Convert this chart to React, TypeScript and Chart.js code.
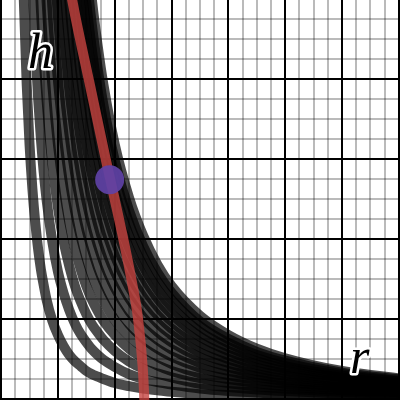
import { useEffect, useRef } from "react";
import { Chart, registerables } from "chart.js";

Chart.register(...registerables);

// radius values (x) shared by the black constant-volume curves
const radii = [0.3, 0.35, 0.4, 0.45, 0.5, 0.55, 0.6, 0.65, 0.7, 0.75, 0.8, 0.9, 1.0, 1.1, 1.2, 1.3, 1.4, 1.5, 1.6, 1.7, 1.8, 2.0, 2.25, 2.5, 2.75, 3.0, 3.5, 4.0, 4.5, 5.0, 6.0, 7.1];

// heights (y) of each black curve at the radii above (null = above the view)
const blackCurves: (number | null)[][] = [
  [8.84, 6.5, 4.97, 3.93, 3.18, 2.63, 2.21, 1.88, 1.62, 1.42, 1.24, 0.98, 0.8, 0.66, 0.55, 0.47, 0.41, 0.35, 0.31, 0.28, 0.25, 0.2, 0.16, 0.13, 0.11, 0.09, 0.06, 0.05, 0.04, 0.03, 0.02, 0.02],
  [null, null, 9.95, 7.86, 6.37, 5.26, 4.42, 3.77, 3.25, 2.83, 2.49, 1.97, 1.59, 1.32, 1.11, 0.94, 0.81, 0.71, 0.62, 0.55, 0.49, 0.4, 0.31, 0.25, 0.21, 0.18, 0.13, 0.1, 0.08, 0.06, 0.04, 0.03],
  [null, null, null, null, 9.55, 7.89, 6.63, 5.65, 4.87, 4.24, 3.73, 2.95, 2.39, 1.97, 1.66, 1.41, 1.22, 1.06, 0.93, 0.83, 0.74, 0.6, 0.47, 0.38, 0.32, 0.27, 0.19, 0.15, 0.12, 0.1, 0.07, 0.05],
  [null, null, null, null, null, 10.52, 8.84, 7.53, 6.5, 5.66, 4.97, 3.93, 3.18, 2.63, 2.21, 1.88, 1.62, 1.41, 1.24, 1.1, 0.98, 0.8, 0.63, 0.51, 0.42, 0.35, 0.26, 0.2, 0.16, 0.13, 0.09, 0.06],
  [null, null, null, null, null, null, 11.05, 9.42, 8.12, 7.07, 6.22, 4.91, 3.98, 3.29, 2.76, 2.35, 2.03, 1.77, 1.55, 1.38, 1.23, 0.99, 0.79, 0.64, 0.53, 0.44, 0.32, 0.25, 0.2, 0.16, 0.11, 0.08],
  [null, null, null, null, null, null, null, 11.3, 9.75, 8.49, 7.46, 5.89, 4.78, 3.95, 3.32, 2.83, 2.44, 2.12, 1.87, 1.65, 1.47, 1.19, 0.94, 0.76, 0.63, 0.53, 0.39, 0.3, 0.24, 0.19, 0.13, 0.09],
  [null, null, null, null, null, null, null, null, 11.37, 9.9, 8.7, 6.88, 5.57, 4.6, 3.87, 3.3, 2.84, 2.48, 2.18, 1.93, 1.72, 1.39, 1.1, 0.89, 0.74, 0.62, 0.45, 0.35, 0.28, 0.22, 0.15, 0.11],
  [null, null, null, null, null, null, null, null, null, 11.32, 9.95, 7.86, 6.37, 5.26, 4.42, 3.77, 3.25, 2.83, 2.49, 2.2, 1.96, 1.59, 1.26, 1.02, 0.84, 0.71, 0.52, 0.4, 0.31, 0.25, 0.18, 0.13],
  [null, null, null, null, null, null, null, null, null, null, 11.19, 8.84, 7.16, 5.92, 4.97, 4.24, 3.65, 3.18, 2.8, 2.48, 2.21, 1.79, 1.41, 1.15, 0.95, 0.8, 0.58, 0.45, 0.35, 0.29, 0.2, 0.14],
  [null, null, null, null, null, null, null, null, null, null, 12.43, 9.82, 7.96, 6.58, 5.53, 4.71, 4.06, 3.54, 3.11, 2.75, 2.46, 1.99, 1.57, 1.27, 1.05, 0.88, 0.65, 0.5, 0.39, 0.32, 0.22, 0.16],
  [null, null, null, null, null, null, null, null, null, null, null, 10.81, 8.75, 7.23, 6.08, 5.18, 4.47, 3.89, 3.42, 3.03, 2.7, 2.19, 1.73, 1.4, 1.16, 0.97, 0.71, 0.55, 0.43, 0.35, 0.24, 0.17],
  [null, null, null, null, null, null, null, null, null, null, null, 11.79, 9.55, 7.89, 6.63, 5.65, 4.87, 4.24, 3.73, 3.3, 2.95, 2.39, 1.89, 1.53, 1.26, 1.06, 0.78, 0.6, 0.47, 0.38, 0.27, 0.19],
  [null, null, null, null, null, null, null, null, null, null, null, null, 10.35, 8.55, 7.18, 6.12, 5.28, 4.6, 4.04, 3.58, 3.19, 2.59, 2.04, 1.66, 1.37, 1.15, 0.84, 0.65, 0.51, 0.41, 0.29, 0.21],
  [null, null, null, null, null, null, null, null, null, null, null, null, 11.14, 9.21, 7.74, 6.59, 5.68, 4.95, 4.35, 3.85, 3.44, 2.79, 2.2, 1.78, 1.47, 1.24, 0.91, 0.7, 0.55, 0.45, 0.31, 0.22],
  [null, null, null, null, null, null, null, null, null, null, null, null, null, 9.86, 8.29, 7.06, 6.09, 5.31, 4.66, 4.13, 3.68, 2.98, 2.36, 1.91, 1.58, 1.33, 0.97, 0.75, 0.59, 0.48, 0.33, 0.24],
  [null, null, null, null, null, null, null, null, null, null, null, null, null, 10.52, 8.84, 7.53, 6.5, 5.66, 4.97, 4.41, 3.93, 3.18, 2.52, 2.04, 1.68, 1.41, 1.04, 0.8, 0.63, 0.51, 0.35, 0.25],
];

// red curve
const redR = [1.22, 1.25, 1.54, 1.84, 2.0, 2.15, 2.31, 2.41, 2.49, 2.52, 2.525];
const redH = [5.12, 4.99, 4.0, 3.0, 2.49, 2.0, 1.43, 1.0, 0.41, 0.0, -0.1];

// purple point
const pointR = [1.91];
const pointH = [2.74];

// axis letters
const axisLetters = ["h", "r"];

// grid line positions (every quarter unit; whole units are the dark lines)
const xGrid = [0, 0.25, 0.5, 0.75, 1, 1.25, 1.5, 1.75, 2, 2.25, 2.5, 2.75, 3, 3.25, 3.5, 3.75, 4, 4.25, 4.5, 4.75, 5, 5.25, 5.5, 5.75, 6, 6.25, 6.5, 6.75, 7];
const yGrid = [0, 0.25, 0.5, 0.75, 1, 1.25, 1.5, 1.75, 2, 2.25, 2.5, 2.75, 3, 3.25, 3.5, 3.75, 4, 4.25, 4.5, 4.75];

const isMajor = (v: number | undefined) =>
  v !== undefined && Math.abs(v - Math.round(v)) < 1e-6;

const letterPlugin = {
  id: "axisLetters",
  afterDatasetsDraw(chart: any) {
    const ctx = chart.ctx as CanvasRenderingContext2D;
    const spots = [
      [axisLetters[0], 28, 68],
      [axisLetters[1], 350, 373],
    ] as [string, number, number][];
    ctx.save();
    ctx.font = 'italic 50px "Liberation Serif", "Times New Roman", "DejaVu Serif", serif';
    ctx.textBaseline = "alphabetic";
    ctx.textAlign = "left";
    ctx.lineJoin = "round";
    ctx.lineWidth = 5;
    ctx.strokeStyle = "#ffffff";
    ctx.fillStyle = "#000000";
    for (const [t, x, y] of spots) {
      ctx.strokeText(t, x, y);
      ctx.fillText(t, x, y);
    }
    ctx.restore();
  },
};

const gridScale = (min: number, max: number, values: number[]) => ({
  type: "linear" as const,
  min,
  max,
  afterBuildTicks: (scale: any) => {
    scale.ticks = values.map((v) => ({ value: v }));
  },
  ticks: { display: false, autoSkip: false },
  grid: {
    drawTicks: false,
    lineWidth: 2,
    color: (c: any) => (isMajor(c.tick?.value) ? "#000000" : "rgba(0,0,0,0.27)"),
  },
  border: { display: false },
});

export default function App() {
  const ref = useRef<HTMLCanvasElement>(null);

  useEffect(() => {
    document.body.style.margin = "0";
    const canvas = ref.current;
    if (!canvas) return;

    const blackSets = blackCurves.map((hs) => ({
      type: "line" as const,
      data: radii
        .map((r, i) => ({ x: r, y: hs[i] }))
        .filter((p) => p.y !== null) as { x: number; y: number }[],
      borderColor: "rgba(0,0,0,0.7)",
      borderWidth: 10,
      pointRadius: 0,
      cubicInterpolationMode: "monotone" as const,
      fill: false,
      order: 3,
    }));

    const chart = new Chart(canvas, {
      type: "line",
      data: {
        datasets: [
          {
            type: "scatter",
            data: pointR.map((r, i) => ({ x: r, y: pointH[i] })),
            backgroundColor: "rgba(96,66,166,0.92)",
            borderWidth: 0,
            pointRadius: 14.5,
            order: 1,
          } as any,
          {
            type: "line",
            data: redR.map((r, i) => ({ x: r, y: redH[i] })),
            borderColor: "rgba(199,68,64,0.8)",
            borderWidth: 10,
            pointRadius: 0,
            cubicInterpolationMode: "monotone",
            fill: false,
            order: 2,
          } as any,
          ...blackSets,
        ],
      },
      options: {
        animation: false,
        responsive: false,
        maintainAspectRatio: false,
        devicePixelRatio: 1,
        layout: { padding: 0, autoPadding: false },
        plugins: {
          legend: { display: false },
          tooltip: { enabled: false },
          title: { display: false },
        },
        scales: {
          x: gridScale(-0.02, 7.02, xGrid),
          y: gridScale(-0.0125, 4.9875, yGrid),
        },
      } as any,
      plugins: [letterPlugin],
    });

    return () => chart.destroy();
  }, []);

  return (
    <div style={{ width: 400, height: 400 }}>
      <canvas ref={ref} width={400} height={400} style={{ display: "block" }} />
    </div>
  );
}
